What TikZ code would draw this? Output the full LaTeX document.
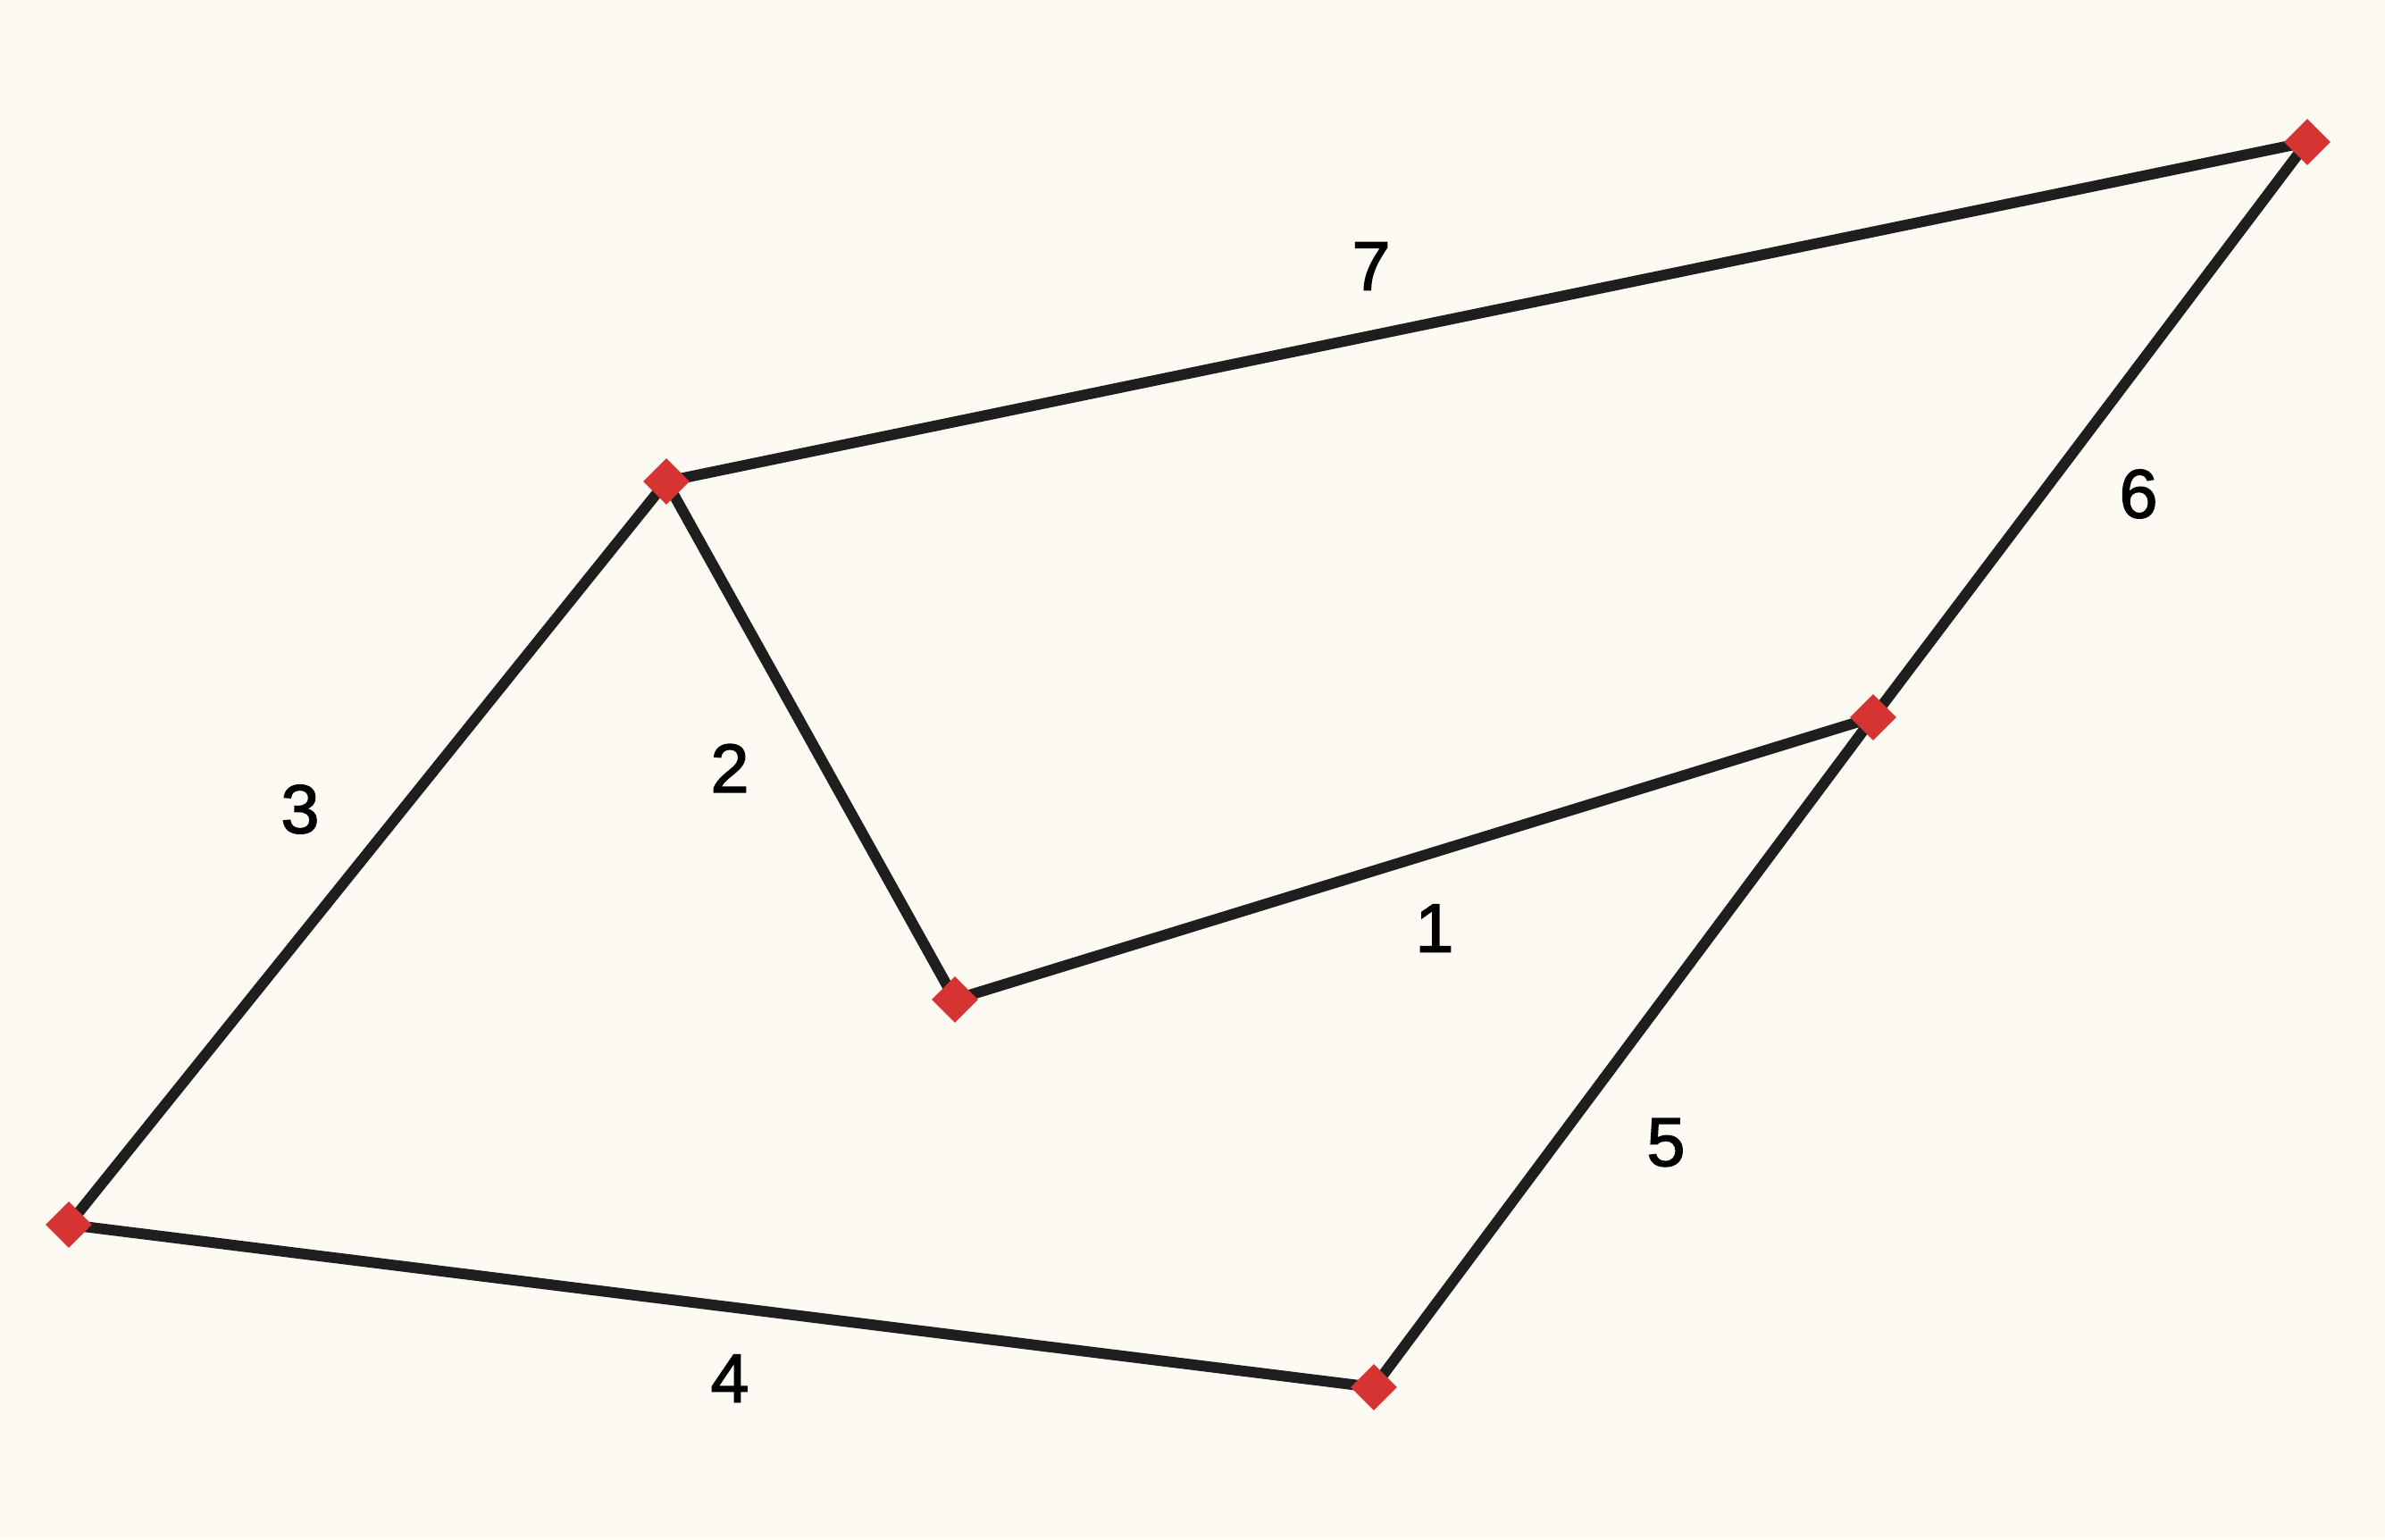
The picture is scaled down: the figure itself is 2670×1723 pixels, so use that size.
\documentclass[tikz,border=0pt]{standalone}
\usepackage{fontspec}
\setmainfont{Liberation Sans}
\newfontfamily\lblfont[FakeBold=2]{Liberation Sans}
\usetikzlibrary{shapes.geometric}
\definecolor{bgcol}{HTML}{FCFAF3}
\definecolor{vred}{HTML}{D63333}
\definecolor{edgecol}{HTML}{1E1E1E}
\tikzset{
  vtx/.style={shape=diamond, fill=vred, draw=none, minimum width=52pt, minimum height=52pt, inner sep=0pt},
  edge/.style={draw=edgecol, line width=12pt},
  lbl/.style={font=\lblfont\fontsize{77}{82}\selectfont, text=black, inner sep=0pt}
}
\begin{document}
\begin{tikzpicture}[x=1pt,y=-1pt]
\fill[bgcol] (0,0) rectangle (2670,1723);
\useasboundingbox (0,0) rectangle (2670,1723);
\coordinate (a) at (746,539);
\coordinate (b) at (2583,159);
\coordinate (c) at (2097,803);
\coordinate (d) at (1069,1119);
\coordinate (e) at (77,1371);
\coordinate (f) at (1538,1553);
\draw[edge] (d) -- (c);
\draw[edge] (a) -- (d);
\draw[edge] (e) -- (a);
\draw[edge] (e) -- (f);
\draw[edge] (f) -- (c);
\draw[edge] (c) -- (b);
\draw[edge] (a) -- (b);
\node[vtx] (A) at (a) {};
\node[vtx] (B) at (b) {};
\node[vtx] (C) at (c) {};
\node[vtx] (D) at (d) {};
\node[vtx] (E) at (e) {};
\node[vtx] (F) at (f) {};
\node[lbl] (l1) at (1606,1039) {1};
\node[lbl] (l2) at (817,860) {2};
\node[lbl] (l3) at (336,906) {3};
\node[lbl] (l4) at (817,1543) {4};
\node[lbl] (l5) at (1865,1279) {5};
\node[lbl] (l6) at (2394,553) {6};
\node[lbl] (l7) at (1535,298) {7};
\end{tikzpicture}
\end{document}
